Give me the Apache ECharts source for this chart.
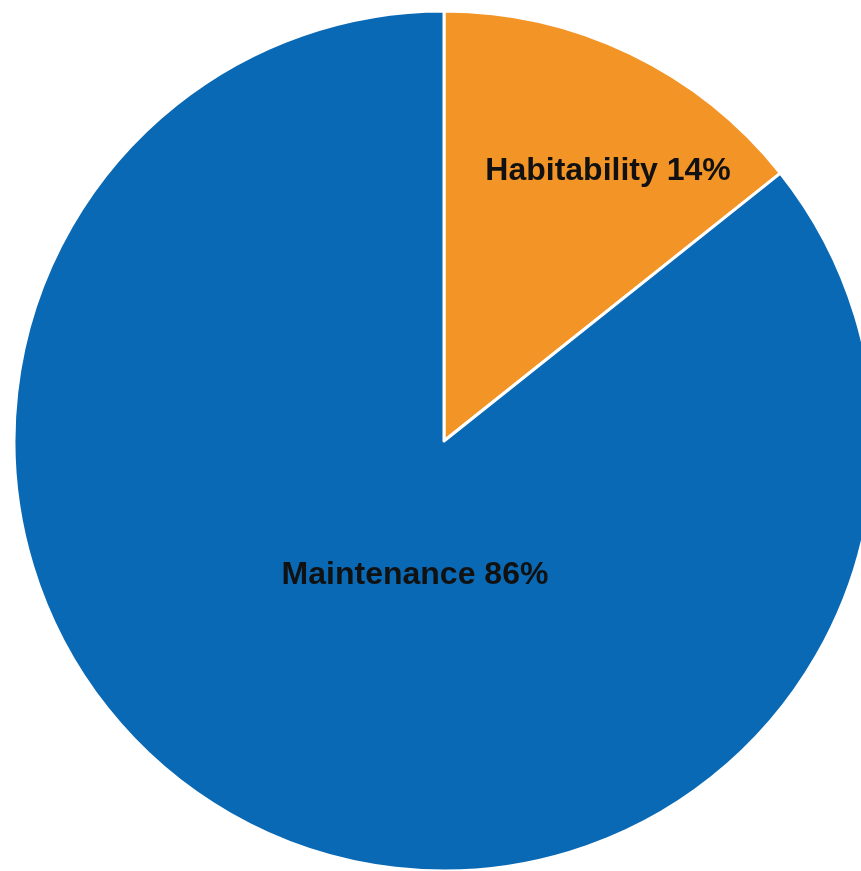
<!DOCTYPE html>
<html>
<head>
<meta charset="utf-8">
<script src="https://cdn.jsdelivr.net/npm/echarts@6/dist/echarts.min.js"></script>
<style>html,body{margin:0;padding:0;background:#fff;}#c{width:861px;height:871px;}</style>
</head>
<body>
<div id="c"></div>
<script>
const categories = ['Habitability', 'Maintenance'];
const values = [14.3, 85.7];
const colors = ['#F39427', '#0A69B4'];
const labelPos = [[608, 171], [415, 575]];

const chart = echarts.init(document.getElementById('c'), null, {renderer: 'canvas'});
chart.setOption({
  animation: false,
  series: [{
    type: 'pie',
    center: [444, 441],
    radius: 430,
    startAngle: 90,
    clockwise: true,
    data: categories.map((c, i) => ({name: c, value: values[i], itemStyle: {color: colors[i]}})),
    itemStyle: {borderColor: '#ffffff', borderWidth: 3},
    label: {
      show: true,
      position: 'inside',
      formatter: p => p.name + ' ' + Math.round(p.value) + '%',
      fontFamily: '"Liberation Sans", Arial, sans-serif',
      fontWeight: 'bold',
      fontSize: 32,
      color: '#111111'
    },
    labelLayout: function (p) {
      const pos = labelPos[p.dataIndex];
      return {x: pos[0], y: pos[1], align: 'center', verticalAlign: 'middle'};
    },
    labelLine: {show: false}
  }]
});
</script>
</body>
</html>
